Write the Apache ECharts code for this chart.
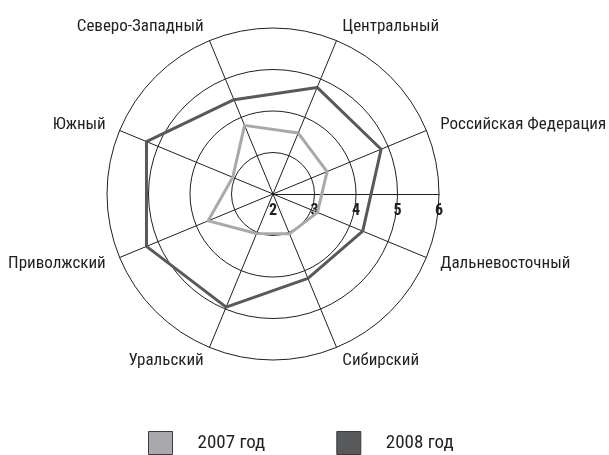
<!DOCTYPE html>
<html>
<head>
<meta charset="utf-8">
<script src="https://cdn.jsdelivr.net/npm/echarts@6/dist/echarts.min.js"></script>
<style>
  html, body { margin: 0; padding: 0; background: #fff; }
  #chart { width: 609px; height: 455px; }
</style>
</head>
<body>
<div id="chart"></div>
<script>
// regions, counter-clockwise from the upper-right spoke
const regions = [
  "Центральный",
  "Северо-Западный",
  "Южный",
  "Приволжский",
  "Уральский",
  "Сибирский",
  "Дальневосточный",
  "Российская Федерация",
];
const values2007 = [3.59, 3.79, 3.05, 3.69, 3.03, 3.04, 3.16, 3.41];
const values2008 = [4.78, 4.46, 5.3, 5.3, 4.95, 4.2, 4.34, 4.82];
const seriesNames = ["2007 год", "2008 год"];
const scaleMin = 2;
const scaleMax = 6;

const FONT = '"Roboto Condensed", "DejaVu Sans Condensed", sans-serif';
const INK = "#231f20";
const CENTER = [273, 194];
const RADIUS = 166;

const chart = echarts.init(document.getElementById("chart"));

chart.setOption({
  backgroundColor: "#fff",
  animation: false,
  legend: {
    data: seriesNames,
    left: 143,
    top: 426,
    itemWidth: 24,
    itemHeight: 23,
    itemGap: 71,
    icon: "rect",
    textStyle: { fontFamily: FONT, fontSize: 19, color: INK, padding: [0, 0, 0, 20] },
    itemStyle: { borderColor: "#3a3a3a", borderWidth: 1 },
  },
  radar: {
    center: CENTER,
    radius: RADIUS,
    startAngle: 67.5,
    shape: "circle",
    splitNumber: 4,
    nameGap: 15,
    indicator: regions.map((name) => ({ name, min: scaleMin, max: scaleMax })),
    axisName: { color: INK, fontFamily: FONT, fontSize: 17 },
    axisLine: { lineStyle: { color: INK, width: 1 } },
    splitLine: { lineStyle: { color: INK, width: 1 } },
    splitArea: { show: false },
  },
  // value axis drawn horizontally to the right of the centre
  polar: { center: CENTER, radius: RADIUS },
  angleAxis: {
    type: "value",
    min: 0,
    max: 360,
    startAngle: 0,
    show: false,
  },
  radiusAxis: {
    type: "value",
    min: scaleMin,
    max: scaleMax,
    interval: 1,
    axisLine: { show: true, lineStyle: { color: INK, width: 1 } },
    axisTick: { show: false },
    splitLine: { show: false },
    axisLabel: {
      showMinLabel: true,
      margin: -9,
      verticalAlign: "top",
      color: INK,
      fontFamily: FONT,
      fontSize: 16,
      fontWeight: "bold",
    },
  },
  series: [
    {
      type: "radar",
      symbol: "none",
      data: [
        {
          name: seriesNames[0],
          value: values2007,
          lineStyle: { color: "#a7a9ac", width: 3 },
          itemStyle: { color: "#a7a9ac" },
        },
        {
          name: seriesNames[1],
          value: values2008,
          lineStyle: { color: "#58595b", width: 3 },
          itemStyle: { color: "#58595b" },
        },
      ],
    },
  ],
});
</script>
</body>
</html>
